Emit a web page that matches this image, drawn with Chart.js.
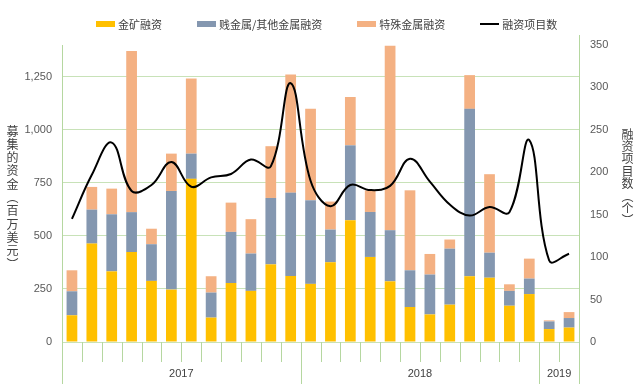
<!DOCTYPE html>
<html><head><meta charset="utf-8">
<script src="https://cdn.jsdelivr.net/npm/chart.js@4.4.0/dist/chart.umd.min.js"></script>
<style>
html,body{margin:0;padding:0;background:#fff;}
#wrap{position:relative;width:640px;height:384px;overflow:hidden;font-family:"Noto Sans CJK SC","Liberation Sans",sans-serif;}
#c{position:absolute;left:0;top:0;}
#legend{position:absolute;left:96px;top:16px;display:flex;align-items:center;font-size:11px;color:#404040;white-space:nowrap;line-height:16px;}
.item{display:flex;align-items:center;margin-right:35px;}
.sw{width:19px;margin-right:3px;}
.vt{position:absolute;writing-mode:vertical-rl;font-size:12px;color:#404040;line-height:14px;white-space:nowrap;}
</style></head>
<body><div id="wrap"><canvas id="c" width="640" height="384"></canvas><div id="legend"></div>
<div class="vt" style="left:5px;top:125px;letter-spacing:1.3px">募集的资金（百万美元）</div>
<div class="vt" style="left:620px;top:128px;letter-spacing:0.4px">融资项目数（个）</div></div>
<script>
const months = ['2017-01','2017-02','2017-03','2017-04','2017-05','2017-06','2017-07','2017-08','2017-09','2017-10','2017-11','2017-12',
  '2018-01','2018-02','2018-03','2018-04','2018-05','2018-06','2018-07','2018-08','2018-09','2018-10','2018-11','2018-12',
  '2019-01','2019-02'];
const years = ['2017','2018','2019'];
const monthsPerYear = [12,12,2];
const seriesNames = ['金矿融资','贱金属/其他金属融资','特殊金属融资','融资项目数'];
const goldFinance    = [126,464,333,424,288,247,769,115,278,241,366,311,274,376,574,401,286,165,130,176,310,303,171,226,61,68];
const baseFinance    = [113,160,269,188,173,465,119,118,241,176,313,393,394,154,353,212,241,173,188,264,789,118,70,73,36,45];
const specialFinance = [99,107,121,760,73,176,354,77,138,162,244,557,432,132,228,102,869,377,97,43,159,370,31,94,5,28];
const projectCount   = [145,197,235,178,185,212,183,194,198,215,207,305,190,160,185,179,184,216,189,162,149,159,153,238,96,104];
const leftTicks = [0,250,500,750,1000,1250];

const GRID = '#c8e2b8';
const AXIS = '#b5d7a0';
Chart.defaults.font.family = "'Liberation Sans', Arial, sans-serif";

const axisDeco = {
  id:'axisDeco',
  afterDraw(chart){
    const {ctx, chartArea:a, scales:{x}} = chart;
    const step = x.getPixelForValue(1) - x.getPixelForValue(0);
    const bounds = new Set([0]);
    let acc = 0; monthsPerYear.forEach(n=>{acc+=n; bounds.add(acc);});
    ctx.save();
    ctx.strokeStyle = AXIS; ctx.lineWidth = 1;
    for(let i=0;i<=months.length;i++){
      const px = Math.round(x.getPixelForValue(i) - step/2) + 0.5;
      const isYear = bounds.has(i);
      ctx.beginPath(); ctx.moveTo(px, a.bottom); ctx.lineTo(px, isYear ? chart.height : a.bottom + 20); ctx.stroke();
    }
    const rx = Math.round(a.right)+0.5;
    ctx.beginPath(); ctx.moveTo(rx, a.top - 10); ctx.lineTo(rx, a.top); ctx.stroke();
    ctx.fillStyle = '#404040'; ctx.font = "11px 'Liberation Sans', Arial"; ctx.textAlign='center'; ctx.textBaseline='middle';
    let start = 0;
    years.forEach((yr,k)=>{
      const end = start + monthsPerYear[k];
      const cx = (x.getPixelForValue(start) + x.getPixelForValue(end-1))/2;
      ctx.fillText(yr, cx, a.bottom + 32);
      start = end;
    });
    ctx.restore();
  }
};

const chart = new Chart(document.getElementById('c'), {
  data:{
    labels: months,
    datasets:[
      {type:'bar', label:seriesNames[0], data:goldFinance, backgroundColor:'#FFC000', yAxisID:'y', order:1, barPercentage:0.54, categoryPercentage:1},
      {type:'bar', label:seriesNames[1], data:baseFinance, backgroundColor:'#8497B0', yAxisID:'y', order:1, barPercentage:0.54, categoryPercentage:1},
      {type:'bar', label:seriesNames[2], data:specialFinance, backgroundColor:'#F4B183', yAxisID:'y', order:1, barPercentage:0.54, categoryPercentage:1},
      {type:'line', label:seriesNames[3], data:projectCount, borderColor:'#000', backgroundColor:'#000', borderWidth:2, tension:0.4, pointRadius:0, yAxisID:'y1', order:0}
    ]
  },
  options:{
    responsive:false, animation:false, devicePixelRatio:1,
    layout:{padding:{top:45,left:0,right:0,bottom:0}},
    plugins:{legend:{display:false}, tooltip:{enabled:false}},
    scales:{
      x:{stacked:true, ticks:{display:false}, grid:{display:false}, border:{display:false}, afterFit:s=>{s.height=42;}},
      y:{stacked:true, position:'left', min:0, max:1400,
         afterBuildTicks:s=>{s.ticks = leftTicks.map(v=>({value:v}));},
         ticks:{padding:10, color:'#595959', font:{size:11}, callback:v=>v.toLocaleString('en-US')},
         grid:{color:GRID, drawTicks:false}, border:{color:AXIS},
         afterFit:s=>{s.width=62;}},
      y1:{position:'right', min:0, max:350,
         ticks:{stepSize:50, padding:11, color:'#595959', font:{size:11}},
         grid:{drawOnChartArea:false, drawTicks:false}, border:{color:AXIS},
         afterFit:s=>{s.width=61;}}
    }
  },
  plugins:[axisDeco]
});

const lg = document.getElementById('legend');
chart.data.datasets.forEach(ds=>{
  const it = document.createElement('div'); it.className='item';
  const sw = document.createElement('div'); sw.className='sw';
  sw.style.height = ds.type==='line' ? '2px' : '6px';
  sw.style.background = ds.type==='line' ? ds.borderColor : ds.backgroundColor;
  const tx = document.createElement('span'); tx.textContent = ds.label;
  it.appendChild(sw); it.appendChild(tx); lg.appendChild(it);
});
</script></body></html>
